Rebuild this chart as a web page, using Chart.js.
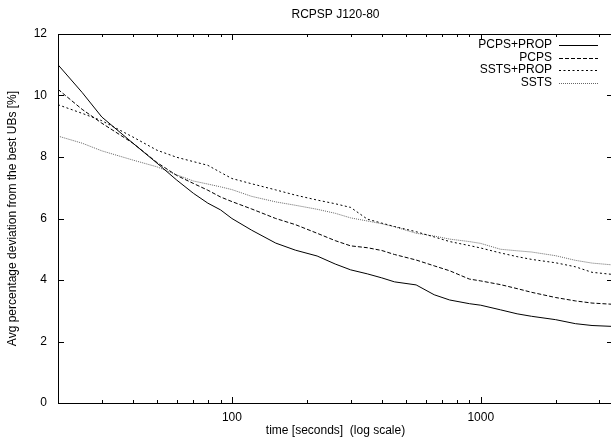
<!DOCTYPE html>
<html>
<head>
<meta charset="utf-8">
<title>RCPSP J120-80</title>
<script src="https://cdn.jsdelivr.net/npm/chart.js@4.4.1/dist/chart.umd.min.js"></script>
<style>
  html, body { margin: 0; padding: 0; background: #fff; overflow: hidden; }
  #chart { display: block; }
</style>
</head>
<body>
<canvas id="chart" width="616" height="441"></canvas>
<script>
// time in seconds (log axis)
const times = [20, 25, 30, 40, 50, 60, 70, 80, 90, 100, 120, 150, 180, 220, 260, 300,
  350, 400, 450, 550, 650, 750, 900, 1000, 1200, 1400, 1600, 2000, 2400, 2800, 3400];

const pcpsProp = [11.0, 10.1, 9.3, 8.45, 7.8, 7.25, 6.82, 6.5, 6.28, 6.0, 5.62, 5.2, 4.97, 4.78, 4.52, 4.33,
  4.2, 4.07, 3.94, 3.84, 3.52, 3.35, 3.23, 3.18, 3.03, 2.9, 2.82, 2.71, 2.58, 2.52, 2.49];
const pcps = [10.2, 9.55, 9.1, 8.45, 7.82, 7.4, 7.14, 6.92, 6.7, 6.55, 6.31, 6.0, 5.8, 5.52, 5.28, 5.11,
  5.05, 4.96, 4.83, 4.65, 4.46, 4.3, 4.03, 3.97, 3.85, 3.72, 3.6, 3.43, 3.32, 3.25, 3.21];
const sstsProp = [9.7, 9.42, 9.18, 8.65, 8.22, 7.99, 7.85, 7.73, 7.5, 7.3, 7.13, 6.93, 6.76, 6.6, 6.48, 6.36,
  5.98, 5.85, 5.74, 5.57, 5.4, 5.25, 5.12, 5.04, 4.88, 4.76, 4.67, 4.56, 4.43, 4.25, 4.18];
const ssts = [8.68, 8.45, 8.2, 7.9, 7.68, 7.42, 7.22, 7.12, 7.03, 6.94, 6.72, 6.54, 6.43, 6.3, 6.17, 6.02,
  5.92, 5.83, 5.73, 5.52, 5.43, 5.33, 5.25, 5.19, 5.0, 4.95, 4.91, 4.79, 4.64, 4.55, 4.49];

const xTicks = [20, 30, 40, 50, 60, 70, 80, 90, 100, 200, 300, 400, 500, 600, 700, 800, 900, 1000, 2000, 3000];
const xLabels = [100, 1000];
const yTicks = [0, 2, 4, 6, 8, 10, 12];

const FONT = '"Liberation Sans", Arial, Helvetica, sans-serif';
Chart.defaults.font.family = FONT;
Chart.defaults.font.size = 12;
Chart.defaults.color = '#000';

const toPoints = vals => times.map((t, i) => ({ x: t, y: vals[i] }));

const series = (label, vals, color, dash) => ({
  label,
  data: toPoints(vals),
  borderColor: color,
  borderWidth: 1,
  borderDash: dash,
  pointRadius: 0,
  tension: 0,
  fill: false,
});

// gnuplot-like frame, inward ticks, title and key
const gnuplotFrame = {
  id: 'gnuplotFrame',
  afterDraw(chart) {
    const { ctx, chartArea: a, scales } = chart;
    ctx.save();
    ctx.strokeStyle = '#000';
    ctx.lineWidth = 1;
    ctx.setLineDash([]);
    ctx.strokeRect(a.left + 0.5, a.top + 0.5, a.right - a.left, a.bottom - a.top);

    ctx.beginPath();
    yTicks.forEach(v => {
      const y = Math.round(scales.y.getPixelForValue(v)) + 0.5;
      ctx.moveTo(a.left, y); ctx.lineTo(a.left + 6, y);
      ctx.moveTo(a.right - 6, y); ctx.lineTo(a.right, y);
    });
    xTicks.forEach(v => {
      const x = Math.round(scales.x.getPixelForValue(v)) + 0.5;
      const len = xLabels.includes(v) ? 6 : 3;
      ctx.moveTo(x, a.bottom); ctx.lineTo(x, a.bottom - len);
      ctx.moveTo(x, a.top); ctx.lineTo(x, a.top + len);
    });
    ctx.stroke();

    // title
    ctx.fillStyle = '#000';
    ctx.font = '12px ' + FONT;
    ctx.textAlign = 'center';
    ctx.textBaseline = 'middle';
    ctx.fillText('RCPSP J120-80', (a.left + a.right) / 2, 15);

    // key: text on the left, sample on the right
    chart.data.datasets.forEach((ds, i) => {
      const y = 45 + i * 12.5;
      ctx.textAlign = 'right';
      ctx.fillStyle = '#000';
      ctx.fillText(ds.label, 552, y);
      ctx.strokeStyle = ds.borderColor;
      ctx.setLineDash(ds.borderDash || []);
      ctx.beginPath();
      ctx.moveTo(559, Math.round(y) + 0.5);
      ctx.lineTo(598, Math.round(y) + 0.5);
      ctx.stroke();
    });
    ctx.restore();
  }
};

new Chart(document.getElementById('chart'), {
  type: 'line',
  data: {
    datasets: [
      series('PCPS+PROP', pcpsProp, '#000', []),
      series('PCPS', pcps, '#000', [4, 2]),
      series('SSTS+PROP', sstsProp, '#000', [2, 2.5]),
      series('SSTS', ssts, '#666', [1, 1]),
    ]
  },
  options: {
    responsive: false,
    animation: false,
    layout: { padding: { left: 0, right: 3, top: 34, bottom: 0 } },
    scales: {
      x: {
        type: 'logarithmic',
        min: 20,
        max: 3400,
        grid: { display: false, drawTicks: false },
        border: { display: false },
        afterBuildTicks: scale => { scale.ticks = xTicks.map(v => ({ value: v })); },
        afterFit: scale => { scale.height = 38; },
        ticks: {
          autoSkip: false,
          maxRotation: 0,
          padding: 7,
          callback: v => (xLabels.includes(v) ? String(v) : ''),
        },
        title: {
          display: true,
          text: 'time [seconds]  (log scale)',
          padding: { top: 0, bottom: 3 },
        }
      },
      y: {
        min: 0,
        max: 12,
        grid: { display: false, drawTicks: false },
        border: { display: false },
        afterBuildTicks: scale => { scale.ticks = yTicks.map(v => ({ value: v })); },
        afterFit: scale => { scale.width = 58; },
        ticks: { padding: 11 },
        title: {
          display: true,
          text: 'Avg percentage deviation from the best UBs [%]',
          padding: { top: 5, bottom: 0 },
        }
      }
    },
    plugins: {
      legend: { display: false },
      tooltip: { enabled: false },
      title: { display: false }
    }
  },
  plugins: [gnuplotFrame]
});
</script>
</body>
</html>
